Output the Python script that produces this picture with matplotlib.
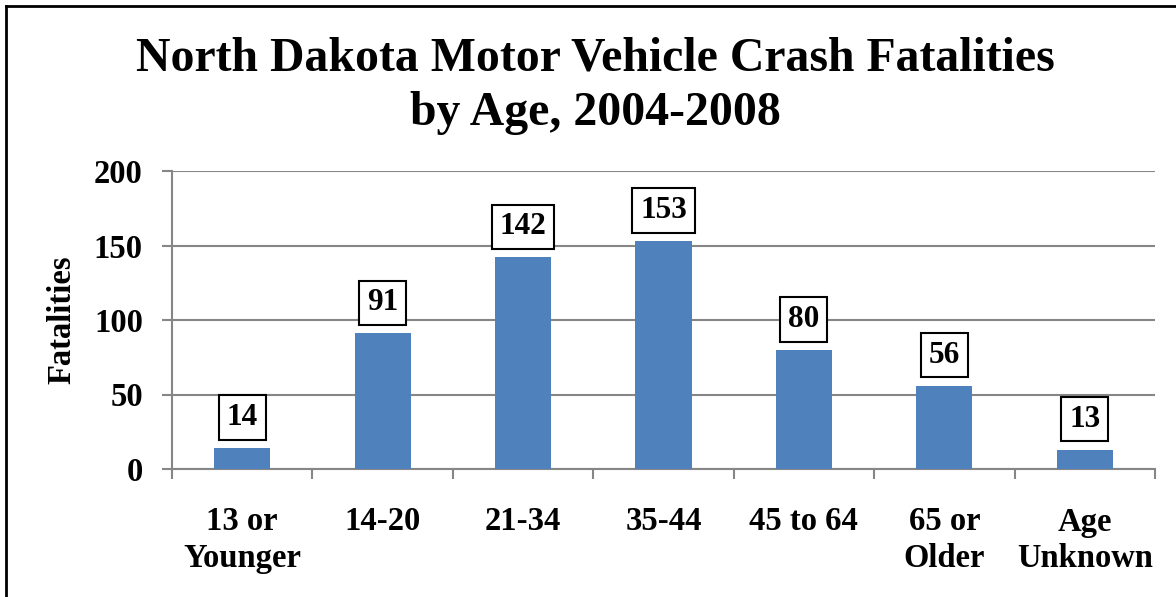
import matplotlib.pyplot as plt
from matplotlib.lines import Line2D

categories = ['13 or\nYounger', '14-20', '21-34', '35-44', '45 to 64', '65 or\nOlder', 'Age\nUnknown']
fatalities = [14, 91, 142, 153, 80, 56, 13]
yticks = [0, 50, 100, 150, 200]

plt.rcParams['font.family'] = ['Liberation Serif', 'DejaVu Serif']
plt.rcParams['font.weight'] = 'bold'

W, H = 1176, 597
fig = plt.figure(figsize=(W / 100, H / 100), dpi=100)
ax = fig.add_axes([172 / W, 128 / H, (1155 - 172) / W, (469 - 171) / H])

grid_col = '#868686'
x = list(range(len(categories)))
ax.bar(x, fatalities, width=0.4, color='#4F81BD', zorder=3)

for xi, v in zip(x, fatalities):
    ax.annotate(str(v), (xi, v), xytext=(0, 11.5), textcoords='offset points',
                ha='center', va='bottom', fontsize=22.5, fontweight='bold',
                bbox=dict(boxstyle='square,pad=0.25', fc='white', ec='black', lw=1.5),
                zorder=4)

ax.set_xlim(-0.5, len(categories) - 0.5)
ax.set_ylim(0, 200)
ax.set_yticks(yticks)
ax.set_yticklabels([str(t) for t in yticks])
ax.yaxis.grid(True, color=grid_col, lw=1.5, zorder=0)
ax.tick_params(axis='y', length=7, width=1.5, color=grid_col, pad=14, labelsize=23.5)

ax.set_xticks(x)
ax.set_xticklabels(categories, fontsize=23.5, linespacing=1.22)
ax.set_xticks([i - 0.5 for i in range(len(categories) + 1)], minor=True)
ax.tick_params(axis='x', which='major', length=0, pad=27)
ax.tick_params(axis='x', which='minor', length=7, width=1.5, color=grid_col)

for s in ['top', 'right']:
    ax.spines[s].set_visible(False)
for s in ['left', 'bottom']:
    ax.spines[s].set_color(grid_col)
    ax.spines[s].set_linewidth(1.5)

ax.set_ylabel('Fatalities', fontsize=23.5, fontweight='bold', labelpad=12)

fig.text(595 / W, 1 - 86 / H, 'North Dakota Motor Vehicle Crash Fatalities\nby Age, 2004-2008',
         ha='center', va='center', fontsize=34.4, fontweight='bold', linespacing=1.32)

# outer frame (only top and left edges are visible)
fig.add_artist(Line2D([6 / W, 6 / W], [0, 1 - 6 / H], color='black', lw=2))
fig.add_artist(Line2D([6 / W, 1], [1 - 6 / H, 1 - 6 / H], color='black', lw=2))

fig.savefig('out.png', dpi=100)
